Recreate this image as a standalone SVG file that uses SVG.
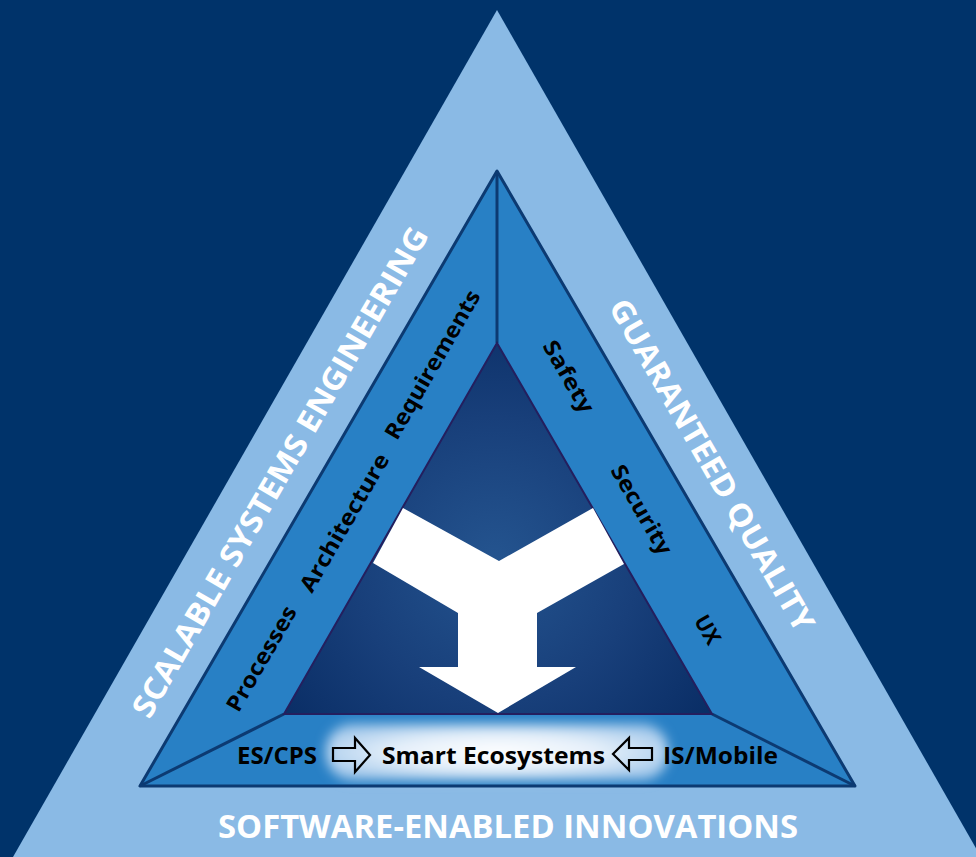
<svg xmlns="http://www.w3.org/2000/svg" width="976" height="857" viewBox="0 0 976 857">
<defs>
<radialGradient id="innerGrad" cx="495" cy="560" r="260" gradientUnits="userSpaceOnUse">
<stop offset="0" stop-color="#24548f"/>
<stop offset="0.55" stop-color="#183f7a"/>
<stop offset="1" stop-color="#0a2e66"/>
</radialGradient>
<radialGradient id="glowGrad" cx="0.5" cy="0.5" r="0.6">
<stop offset="0" stop-color="#ffffff"/>
<stop offset="0.5" stop-color="#e6f0fa"/>
<stop offset="1" stop-color="#9fc6ea"/>
</radialGradient>
<filter id="blur" x="-20%" y="-50%" width="140%" height="200%">
<feGaussianBlur stdDeviation="6"/>
</filter>
<style>
.band-line{stroke:#0c3a72;stroke-width:3;fill:none;stroke-linejoin:round}
.white-title{font-family:"Open Sans","Liberation Sans",sans-serif;font-weight:700;fill:#ffffff}
.label{font-family:"Open Sans","Liberation Sans",sans-serif;font-weight:700;fill:#000000}
.hollow{fill:none;stroke:#000000;stroke-width:2.2;stroke-linejoin:miter}
</style>
</defs>

<rect x="0" y="0" width="976" height="857" fill="#00336a"/>

<g id="outer-triangle">
<polygon points="497,10 13,857 981,857" fill="#8abae5"/>
<text class="white-title" font-size="31" text-anchor="middle" transform="translate(280,472) rotate(-60)" dy="11" textLength="560" lengthAdjust="spacingAndGlyphs">SCALABLE SYSTEMS ENGINEERING</text>
<text class="white-title" font-size="31" text-anchor="middle" transform="translate(712,465) rotate(60)" dy="11" textLength="378" lengthAdjust="spacingAndGlyphs">GUARANTEED QUALITY</text>
<text class="white-title" font-size="33" text-anchor="middle" x="508" y="838" textLength="580" lengthAdjust="spacingAndGlyphs">SOFTWARE-ENABLED INNOVATIONS</text>
</g>

<g id="middle-triangle">
<polygon points="497,171 140,786 855,786" fill="#2880c5"/>
</g>

<g id="glow">
<rect x="326" y="724" width="342" height="56" rx="26" fill="url(#glowGrad)" filter="url(#blur)"/>
</g>

<g id="connectors">
<line class="band-line" x1="497" y1="171" x2="497" y2="343"/>
<line class="band-line" x1="284" y1="714" x2="140" y2="786"/>
<line class="band-line" x1="712" y1="714" x2="855" y2="786"/>
<polygon class="band-line" points="497,171 140,786 855,786"/>
</g>

<g id="inner-triangle">
<polygon points="497,343 284,714 712,714" fill="url(#innerGrad)" stroke="#241f5e" stroke-width="2"/>
</g>

<g id="y-arrow">
<polygon points="403,508 499,561 593,508 624,564 537,613 537,667 576,667 498,713 419,667 458,667 458,613 373,563" fill="#ffffff"/>
</g>

<g id="left-labels">
<text class="label" font-size="22" text-anchor="middle" transform="translate(262,659) rotate(-60)" dy="7" textLength="118" lengthAdjust="spacingAndGlyphs">Processes</text>
<text class="label" font-size="22" text-anchor="middle" transform="translate(345,523) rotate(-60)" dy="7" textLength="156" lengthAdjust="spacingAndGlyphs">Architecture</text>
<text class="label" font-size="22" text-anchor="middle" transform="translate(433,365) rotate(-60)" dy="7" textLength="168" lengthAdjust="spacingAndGlyphs">Requirements</text>
</g>

<g id="right-labels">
<text class="label" font-size="22" text-anchor="middle" transform="translate(568,377) rotate(60)" dy="7" textLength="80" lengthAdjust="spacingAndGlyphs">Safety</text>
<text class="label" font-size="22" text-anchor="middle" transform="translate(641,510) rotate(60)" dy="7" textLength="100" lengthAdjust="spacingAndGlyphs">Security</text>
<text class="label" font-size="22" text-anchor="middle" transform="translate(707,630) rotate(60)" dy="7" textLength="30" lengthAdjust="spacingAndGlyphs">UX</text>
</g>

<g id="bottom-labels">
<text class="label" font-size="24" x="237" y="764" textLength="80" lengthAdjust="spacingAndGlyphs">ES/CPS</text>
<polygon class="hollow" points="333,748 355,748 355,738 370,755 355,772 355,761 333,761"/>
<text class="label" font-size="24" x="382" y="764" textLength="223" lengthAdjust="spacingAndGlyphs">Smart Ecosystems</text>
<polygon class="hollow" points="652,748 629,748 629,738 613,754 629,770 629,760 652,760"/>
<text class="label" font-size="24" x="663" y="764" textLength="115" lengthAdjust="spacingAndGlyphs">IS/Mobile</text>
</g>
</svg>
